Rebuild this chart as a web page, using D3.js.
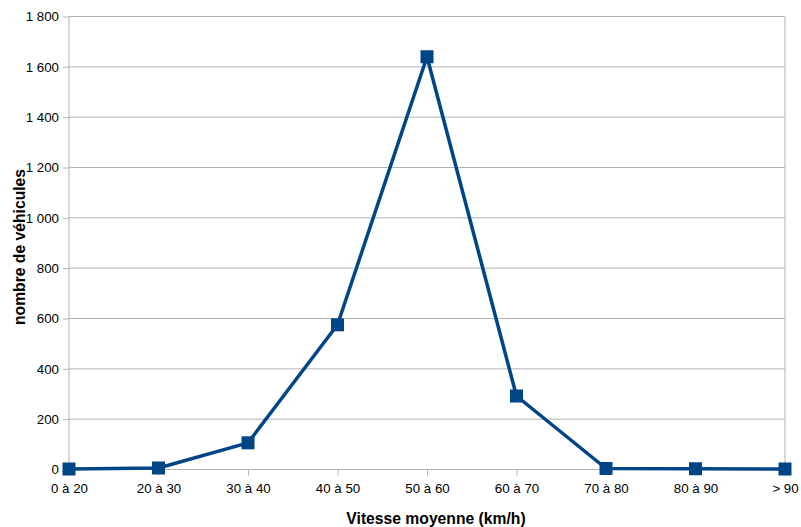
<!DOCTYPE html>
<html><head><meta charset="utf-8">
<script src="https://cdn.jsdelivr.net/npm/d3@7"></script>
<style>body{margin:0;background:#fff}</style>
</head><body>
<svg id="c" width="801" height="527"></svg>
<script>
const categories = ["0 à 20","20 à 30","30 à 40","40 à 50","50 à 60","60 à 70","70 à 80","80 à 90","> 90"];
const values = [2, 6, 106, 575, 1640, 292, 4, 3, 2];
const yTicks = [0,200,400,600,800,1000,1200,1400,1600,1800];
const yTickLabels = ["0","200","400","600","800","1 000","1 200","1 400","1 600","1 800"];

const svg = d3.select("#c");
const L = 69, R = 785, T = 16.5, B = 469.5;
const x = d3.scalePoint().domain(categories).range([L, R]).padding(0);
const y = d3.scaleLinear().domain([0, 1800]).range([B, T]);
const grid = "#b3b3b3";
const font = "'Liberation Sans', Arial, sans-serif";

svg.append("g").selectAll("line").data(yTicks).join("line")
  .attr("x1", L).attr("x2", R).attr("y1", d => y(d)).attr("y2", d => y(d))
  .attr("stroke", grid).attr("stroke-width", 1);
svg.append("line").attr("x1", R).attr("x2", R).attr("y1", T).attr("y2", B).attr("stroke", grid);

const yAxis = d3.axisLeft(y).tickValues(yTicks).tickSize(6).tickPadding(4)
  .tickFormat((d,i) => yTickLabels[i]);
const gy = svg.append("g").attr("transform", `translate(${L},0)`).call(yAxis);
gy.select(".domain").attr("stroke", grid).attr("d", `M-0,${T}V${B}`);
gy.selectAll(".tick line").attr("stroke", grid);
gy.selectAll("text").attr("font-family", font).attr("font-size", 13.3).attr("fill", "#000");

const xAxis = d3.axisBottom(x).tickSize(6).tickPadding(8);
const gx = svg.append("g").attr("transform", `translate(0,${B})`).call(xAxis);
gx.select(".domain").attr("stroke", grid).attr("d", `M${L},0H${R}`);
gx.selectAll(".tick line").attr("stroke", grid);
gx.selectAll("text").attr("font-family", font).attr("font-size", 13.3).attr("fill", "#000");

const line = d3.line().x((d,i) => x(categories[i])).y(d => y(d));
svg.append("path").datum(values).attr("d", line)
  .attr("fill", "none").attr("stroke", "#004586").attr("stroke-width", 3.5).attr("stroke-linejoin", "round");

const s = 13;
svg.append("g").selectAll("rect").data(values).join("rect")
  .attr("x", (d,i) => x(categories[i]) - s/2).attr("y", d => y(d) - s/2)
  .attr("width", s).attr("height", s).attr("fill", "#004586");

svg.append("text").attr("x", 436).attr("y", 524).attr("text-anchor", "middle")
  .attr("font-family", font).attr("font-size", 15.7).attr("font-weight", "bold").text("Vitesse moyenne (km/h)");
svg.append("text").attr("transform", `translate(25,247) rotate(-90)`).attr("text-anchor", "middle")
  .attr("font-family", font).attr("font-size", 15.7).attr("font-weight", "bold").text("nombre de véhicules");
</script>
</body></html>
